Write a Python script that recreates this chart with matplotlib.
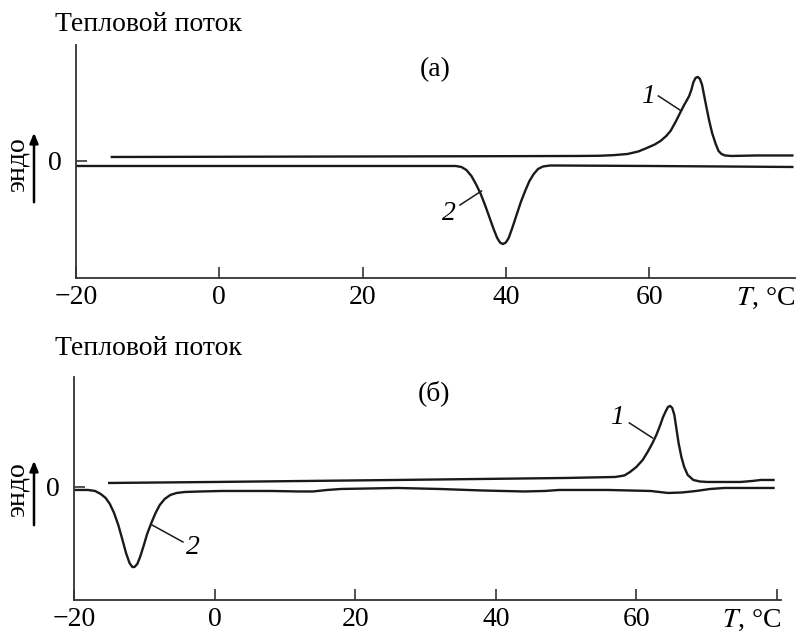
import matplotlib
matplotlib.use("Agg")
import matplotlib.pyplot as plt

plt.rcParams['font.family'] = ['Liberation Serif', 'DejaVu Serif']
plt.rcParams['mathtext.fontset'] = 'stix'

# (а) curve 1 - heating
a1_t = [-15, 0, 20, 40, 50, 53, 55, 57, 58.5, 59.7, 60.8, 61.6, 62.4, 63, 63.7, 64.4,
        64.9, 65.3, 65.6, 65.9, 66.2, 66.5, 66.8, 67.1, 67.4, 67.7, 68.0, 68.4, 68.8,
        69.3, 69.7, 70.1, 70.6, 71.5, 75, 80]
a1_y = [0.04, 0.042, 0.045, 0.048, 0.05, 0.052, 0.058, 0.07, 0.095, 0.13, 0.165, 0.2,
        0.25, 0.3, 0.39, 0.49, 0.56, 0.61, 0.65, 0.71, 0.79, 0.83, 0.84, 0.82, 0.76,
        0.65, 0.54, 0.40, 0.28, 0.17, 0.10, 0.07, 0.055, 0.05, 0.055, 0.055]
# (а) curve 2 - cooling
a2_t = [-20, 0, 20, 33, 33.8, 34.5, 35.2, 35.9, 36.5, 37.1, 37.7, 38.3, 38.8, 39.2,
        39.6, 40.0, 40.4, 40.9, 41.5, 42.1, 42.7, 43.3, 43.9, 44.5, 45.2, 46.2, 60, 80]
a2_y = [-0.05, -0.05, -0.05, -0.05, -0.06, -0.09, -0.15, -0.24, -0.33, -0.44, -0.56,
        -0.68, -0.77, -0.815, -0.83, -0.815, -0.77, -0.67, -0.54, -0.41, -0.30, -0.20,
        -0.13, -0.08, -0.055, -0.045, -0.05, -0.06]

# (б) curve 1 - heating
b1_t = [-15, 0, 26, 50, 57, 58.3, 59.1, 60, 60.9, 61.6, 62.3, 62.9, 63.4, 63.8, 64.2,
        64.5, 64.8, 65.1, 65.4, 65.7, 66.0, 66.4, 66.8, 67.3, 68.1, 69, 70.1, 74.8,
        76.5, 77.7, 79.5]
b1_y = [0.04, 0.05, 0.07, 0.09, 0.10, 0.115, 0.15, 0.2, 0.27, 0.35, 0.44, 0.53, 0.62,
        0.70, 0.76, 0.80, 0.81, 0.79, 0.72, 0.58, 0.44, 0.30, 0.20, 0.12, 0.07, 0.055,
        0.05, 0.05, 0.06, 0.07, 0.07]
# (б) curve 2 - cooling
b2_t = [-20, -18, -17, -16.2, -15.5, -14.9, -14.3, -13.7, -13.1, -12.6, -12.1, -11.7,
        -11.4, -11.0, -10.6, -10.1, -9.6, -9.0, -8.4, -7.8, -7.1, -6.3, -5.4, -4.2,
        -2, 1, 8, 12, 14, 16, 18, 26, 32, 38, 44, 47, 49, 56, 62, 64.5, 66.5, 68.5,
        70.5, 72.5, 79.5]
b2_y = [-0.03, -0.03, -0.04, -0.07, -0.11, -0.17, -0.26, -0.38, -0.53, -0.66, -0.76,
        -0.80, -0.80, -0.77, -0.70, -0.59, -0.47, -0.36, -0.26, -0.18, -0.12, -0.08,
        -0.06, -0.05, -0.045, -0.04, -0.04, -0.045, -0.045, -0.03, -0.02, -0.01, -0.02,
        -0.035, -0.045, -0.04, -0.03, -0.03, -0.04, -0.06, -0.055, -0.04, -0.02, -0.01,
        -0.01]

xticks = [-20, 0, 20, 40, 60]
xtick_labels = ['\u221220', '0', '20', '40', '60']

fig = plt.figure(figsize=(8, 6.32), dpi=100)
ax_a = fig.add_axes([0.095, 0.560, 0.899, 0.369])
ax_b = fig.add_axes([0.0925, 0.0506, 0.884, 0.353])

FS = 20
lc = '#1a1a1a'


def style(ax, xmax, ymin, ymax, ticks, labels):
    ax.set_xlim(-20, xmax)
    ax.set_ylim(ymin, ymax)
    for s in ['top', 'right']:
        ax.spines[s].set_visible(False)
    for s in ['left', 'bottom']:
        ax.spines[s].set_linewidth(1.3)
        ax.spines[s].set_color('#333333')
    ax.set_xticks(ticks)
    ax.set_xticklabels(labels)
    ax.set_yticks([0])
    ax.set_yticklabels(['0'])
    ax.tick_params(axis='both', direction='in', length=8, width=1.2,
                   labelsize=FS, colors='#333333', labelcolor='black')
    ax.tick_params(axis='x', pad=5)
    ax.tick_params(axis='y', pad=10)
    ax.text(1.0, -0.035, '$T$, °C', transform=ax.transAxes, ha='right',
            va='top', fontsize=FS)


# panel (а)
style(ax_a, 80.4, -1.17, 1.16, xticks, xtick_labels)
ax_a.plot(a1_t, a1_y, color=lc, lw=1.7)
ax_a.plot(a2_t, a2_y, color=lc, lw=1.7)
ax_a.text(30.1, 0.91, '(а)', fontsize=FS, ha='center', va='center')
ax_a.text(59.8, 0.64, '1', fontsize=FS, style='italic', ha='center', va='center')
ax_a.plot([61.3, 64.5], [0.65, 0.50], color=lc, lw=1.1)
ax_a.text(32.0, -0.52, '2', fontsize=FS, style='italic', ha='center', va='center')
ax_a.plot([33.6, 36.6], [-0.44, -0.30], color=lc, lw=1.1)

# panel (б)
style(ax_b, 80.6, -1.13, 1.10, xticks + [80], xtick_labels + [''])
ax_b.plot(b1_t, b1_y, color=lc, lw=1.7)
ax_b.plot(b2_t, b2_y, color=lc, lw=1.7)
ax_b.text(31.2, 0.94, '(б)', fontsize=FS, ha='center', va='center')
ax_b.text(57.3, 0.69, '1', fontsize=FS, style='italic', ha='center', va='center')
ax_b.plot([59.0, 62.3], [0.64, 0.49], color=lc, lw=1.1)
ax_b.text(-3.1, -0.61, '2', fontsize=FS, style='italic', ha='center', va='center')
ax_b.plot([-4.5, -8.9], [-0.55, -0.38], color=lc, lw=1.1)

# headings and endo arrows
for ytitle, yendo, yarr0, yarr1 in [(0.962, 0.739, 0.6756, 0.7943),
                                    (0.449, 0.225, 0.1646, 0.2753)]:
    fig.text(0.069, ytitle, 'Тепловой поток', fontsize=FS, ha='left', va='center')
    fig.text(0.021, yendo, 'эндо', fontsize=FS, rotation=90, ha='center', va='center')
    fig.add_artist(matplotlib.patches.FancyArrowPatch(
        (0.0425, yarr0), (0.0425, yarr1), transform=fig.transFigure,
        arrowstyle='-|>,head_length=6,head_width=2.5', color='black', lw=1.8))

fig.savefig('out.png', dpi=100)
